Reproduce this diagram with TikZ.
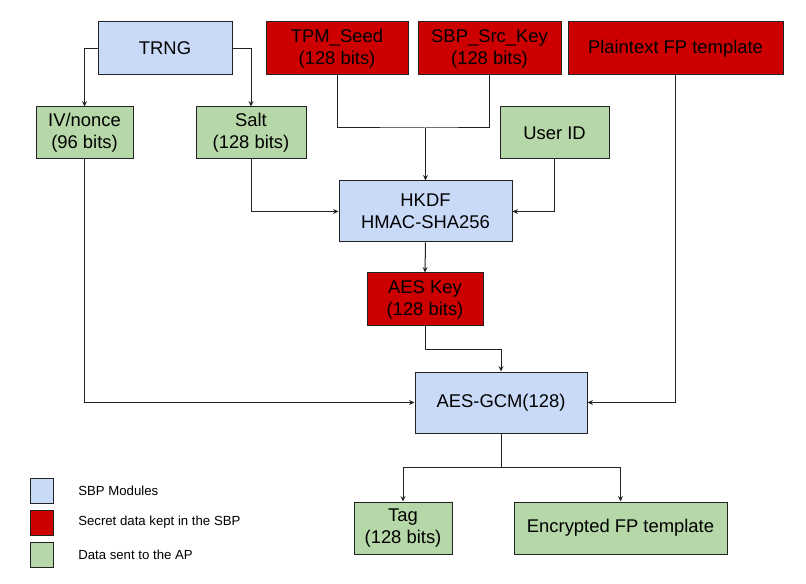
\documentclass[tikz,border=0pt]{standalone}
\usepackage{fontspec}
\setmainfont{Liberation Sans}
\usepackage{xcolor}
\usetikzlibrary{arrows.meta}
\definecolor{modblue}{HTML}{C9DAF8}
\definecolor{secretred}{HTML}{CC0000}
\definecolor{apgreen}{HTML}{B6D7A8}
\definecolor{edge}{HTML}{222222}

\begin{document}
\begin{tikzpicture}[x=0.75pt, y=-0.75pt,
    box/.style={draw=edge, line width=0.75pt, minimum height=39.75pt, align=center, inner sep=0pt, font=\fontsize{13.8}{16.5}\selectfont},
    module/.style={box, fill=modblue},
    secret/.style={box, fill=secretred},
    sent/.style={box, fill=apgreen},
    legbox/.style={draw=edge, line width=0.75pt, minimum width=17.25pt, minimum height=18.75pt, inner sep=0pt},
    legtext/.style={anchor=west, inner sep=0pt, font=\fontsize{9.9}{12}\selectfont},
    flow/.style={draw=edge, line width=0.75pt, -{Stealth[length=4pt, width=3.6pt]}},
    link/.style={draw=edge, line width=0.75pt}
]
\useasboundingbox (0,0) rectangle (806,584);
\node[module, minimum width=100.5pt] (trng) at (165,48.5) {TRNG};
\node[secret, minimum width=106.5pt] (tpm) at (337,48.5) {TPM\_Seed\\(128 bits)};
\node[secret, minimum width=107.25pt] (srckey) at (489.5,48.5) {SBP\_Src\_Key\\(128 bits)};
\node[secret, minimum width=161.25pt] (plain) at (675.5,48.5) {Plaintext FP template};
\node[sent, minimum width=72.75pt, minimum height=39pt] (iv) at (84.5,133) {IV/nonce\\(96 bits)};
\node[sent, minimum width=82.5pt, minimum height=39pt] (salt) at (251,133) {Salt\\(128 bits)};
\node[sent, minimum width=81.75pt, minimum height=39pt] (uid) at (554.5,133) {User ID};
\node[module, minimum width=129.75pt, minimum height=45.75pt] (hkdf) at (425.5,211.5) {HKDF\\HMAC-SHA256};
\node[secret, minimum width=87pt] (aeskey) at (425,299.5) {AES Key\\(128 bits)};
\node[module, minimum width=129pt, minimum height=45.75pt] (gcm) at (501,402.5) {AES-GCM(128)};
\node[sent, minimum width=73.5pt, minimum height=39pt] (tag) at (403,528) {Tag\\(128 bits)};
\node[sent, minimum width=159.75pt, minimum height=39pt] (enc) at (620.5,528) {Encrypted FP template};

\coordinate (join) at (425.5,128);
\coordinate (split) at (501,467);
\draw[flow] (trng.west) -| (iv.north);
\draw[flow] (trng.east) -| (salt.north);
\draw[link] (tpm.south) |- (join) -| (srckey.south);
\draw[flow] (join) -- (hkdf.north);
\draw[flow] (salt.south) |- (hkdf.west);
\draw[flow] (uid.south) |- (hkdf.east);
\draw[flow] (hkdf.south) -- (aeskey.north);
\draw[flow] (aeskey.south) -- ++(0,23) -| (gcm.north);
\draw[flow] (iv.south) |- (gcm.west);
\draw[flow] (plain.south) |- (gcm.east);
\draw[link] (gcm.south) -- (split);
\draw[flow] (split) -| (tag.north);
\draw[flow] (split) -| (enc.north);

\node[legbox, fill=modblue] (legmod) at (41.5,490.5) {};
\node[legbox, fill=secretred] (legsecret) at (41.5,522.5) {};
\node[legbox, fill=apgreen] (legsent) at (41.5,554.5) {};
\node[legtext] (legmodtext) at (78,490.5) {SBP Modules};
\node[legtext] (legsecrettext) at (78,522.5) {Secret data kept in the SBP};
\node[legtext] (legsenttext) at (78,554.5) {Data sent to the AP};
\end{tikzpicture}
\end{document}
